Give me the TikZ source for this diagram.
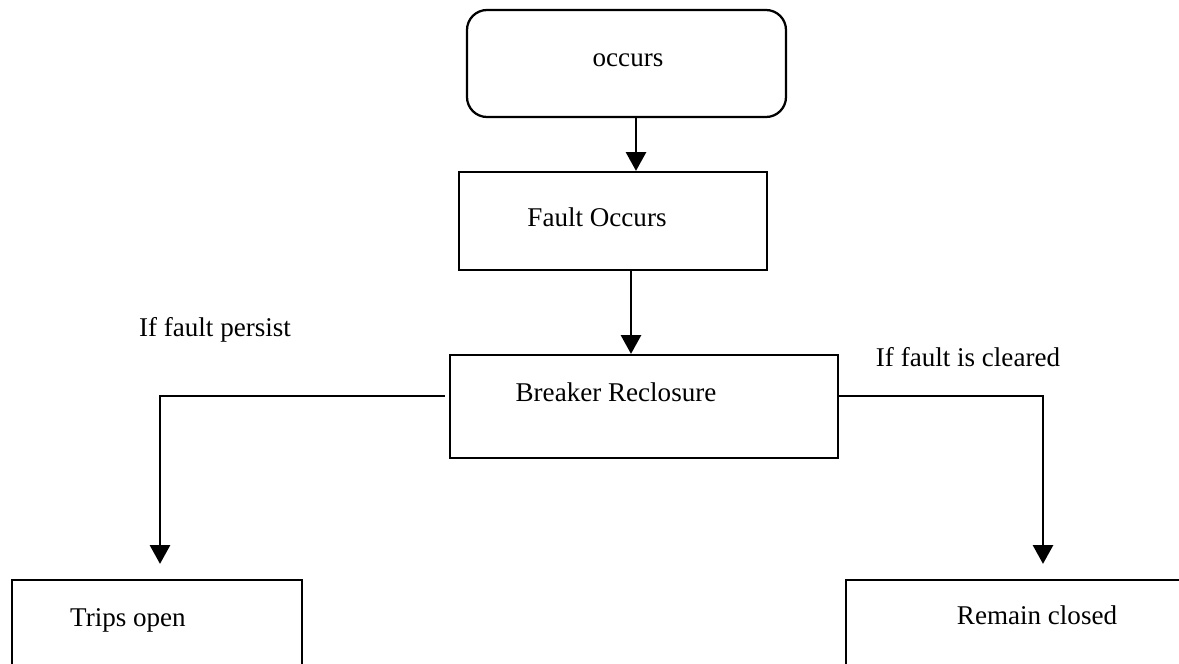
\documentclass[tikz,border=0pt]{standalone}
\usepackage{fontspec}
\setmainfont{Liberation Serif}
\usetikzlibrary{arrows.meta}
\begin{document}
\begin{tikzpicture}[x=0.75pt,y=-0.75pt,
  box/.style={draw, line width=1.7pt, rectangle, inner sep=0pt},
  rbox/.style={box, rounded corners=15pt},
  txt/.style={font=\fontsize{20.3}{24}\selectfont, inner sep=0pt},
  arr/.style={line width=1.7pt, -{Triangle[width=15pt,length=14pt]}}]
\clip (0,0) rectangle (1179,664);
\fill[white] (0,0) rectangle (1179,664);
% boxes
\node[rbox, minimum width=319*0.75pt, minimum height=107*0.75pt] (occ) at (626.5,63.5) {};
\node[box, minimum width=308*0.75pt, minimum height=98*0.75pt] (fault) at (613,221) {};
\node[box, minimum width=388*0.75pt, minimum height=103*0.75pt] (brk) at (644,406.5) {};
\node[box, minimum width=290*0.75pt, minimum height=140*0.75pt] (trips) at (157,650) {};
\node[box, minimum width=360*0.75pt, minimum height=140*0.75pt] (remain) at (1026,650) {};
% texts
\node[txt] (toc) at (628,60) {occurs};
\node[txt] (tfa) at (597,217) {Fault Occurs};
\node[txt] (tbr) at (616,392) {Breaker Reclosure};
\node[txt] (ttr) at (128,620) {Trips open};
\node[txt] (tre) at (1037,615) {Remain closed};
\node[txt] (lp) at (215,330) {If fault persist};
\node[txt] (lc) at (968,357) {If fault is cleared};
% connectors
\draw[arr] (occ.south -| 636,0) -- (fault.north -| 636,0);
\draw[arr] (fault.south -| 631,0) -- (brk.north -| 631,0);
\draw[arr, shorten <=4*0.75pt, shorten >=15*0.75pt] (brk.west |- 0,396) -| (trips.north -| 160,0);
\draw[arr, shorten >=15*0.75pt] (brk.east |- 0,396) -| (remain.north -| 1043,0);
\end{tikzpicture}
\end{document}
